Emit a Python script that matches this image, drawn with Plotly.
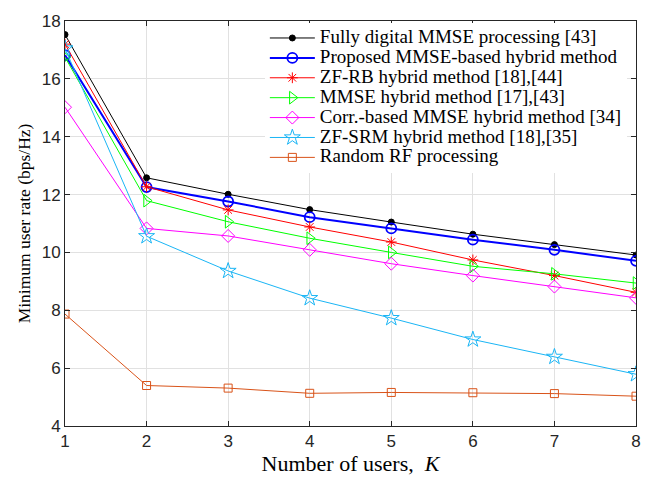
import plotly.graph_objects as go

K = [1, 2, 3, 4, 5, 6, 7, 8]

fully_digital = [17.53, 12.58, 12.01, 11.48, 11.05, 10.63, 10.27, 9.91]
proposed = [16.82, 12.26, 11.76, 11.22, 10.83, 10.44, 10.09, 9.71]
zf_rb = [17.2, 12.27, 11.47, 10.88, 10.36, 9.74, 9.2, 8.62]
mmse_hybrid = [16.75, 11.79, 11.06, 10.49, 10.0, 9.52, 9.26, 8.94]
corr_mmse = [15.02, 10.83, 10.57, 10.09, 9.61, 9.2, 8.82, 8.43]
zf_srm = [17.05, 10.56, 9.36, 8.42, 7.73, 6.99, 6.39, 5.79]
random_rf = [7.87, 5.4, 5.31, 5.13, 5.16, 5.15, 5.12, 5.03]

names = [
    "Fully digital MMSE processing [43]",
    "Proposed MMSE-based hybrid method",
    "ZF-RB hybrid method [18],[44]",
    "MMSE hybrid method [17],[43]",
    "Corr.-based MMSE hybrid method [34]",
    "ZF-SRM hybrid method [18],[35]",
    "Random RF processing",
]
series = [fully_digital, proposed, zf_rb, mmse_hybrid, corr_mmse, zf_srm, random_rf]
colors = ["#000000", "#0000FF", "#FF0000", "#00FF00", "#FF00FF", "#1AB5F5", "#D95319"]
symbols = ["circle", "circle-open", "asterisk-open", "triangle-right-open",
           "diamond-open", "star-open", "square-open"]
msizes = [6, 10, 9, 11, 10, 12, 8]
lwidths = [1.0, 2.0, 1.0, 1.0, 1.0, 1.0, 1.0]

SERIF = "Liberation Serif, Times New Roman, serif"
SANS = "Liberation Sans, Arial, sans-serif"

fig = go.Figure()
for n, s, c, sym, ms, lw in zip(names, series, colors, symbols, msizes, lwidths):
    fig.add_trace(go.Scatter(
        x=K, y=s, mode="lines+markers",
        name='<span style="font-size:19px">' + n + '</span>',
        line=dict(color=c, width=lw),
        marker=dict(symbol=sym, size=ms, color=c,
                    line=dict(color=c, width=1.0 if lw < 2 else 1.8)),
    ))

axis_common = dict(
    showline=True, linecolor="#262626", linewidth=1, mirror="ticks",
    ticks="inside", ticklen=5, tickcolor="#262626",
    showgrid=True, gridcolor="#E1E1E1", gridwidth=1, zeroline=False,
    tickfont=dict(family=SANS, size=17, color="#262626"),
)

fig.update_xaxes(range=[1, 8], tickvals=K, **axis_common,
                 title=dict(text="Number of users,  <i>K</i>",
                            font=dict(family=SERIF, size=22, color="#000"),
                            standoff=4))
fig.update_yaxes(range=[4, 18], tickvals=[4, 6, 8, 10, 12, 14, 16, 18], **axis_common,
                 title=dict(text="Minimum user rate (bps/Hz)",
                            font=dict(family=SERIF, size=17.5, color="#000"),
                            standoff=6))

fig.update_layout(
    width=658, height=483,
    margin=dict(l=65, r=22, t=17, b=54),
    plot_bgcolor="white", paper_bgcolor="white",
    showlegend=True,
    legend=dict(
        x=0.350, y=0.995, xanchor="left", yanchor="top",
        bgcolor="white", borderwidth=0,
        font=dict(family=SERIF, size=13, color="#000"),
        tracegroupgap=0, itemwidth=45,
    ),
)

fig.write_html("out.html")
